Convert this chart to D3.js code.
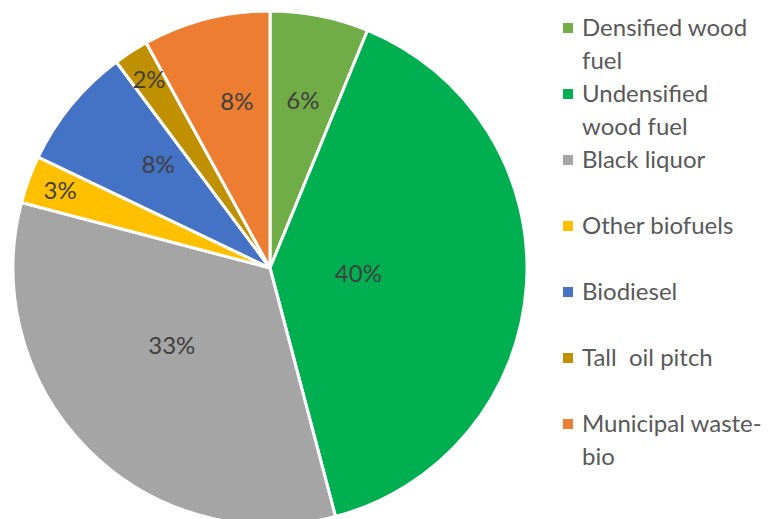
<html>
<head>
<style>
  body { margin: 0; background: #fff; font-family: Lato, 'Open Sans', Arial; }
  .slice path { stroke: #fff; stroke-width: 3px; }
  .pct { fill: #404040; font-size: 24px; }
  .legend text { fill: #595959; font-size: 24px; white-space: pre; }
</style>
</head>
<body>
<script src="https://d3js.org/d3.v7.min.js"></script>
<script>

var width = 768;
var height = 519;

// shares (percent), clockwise from 12 o'clock
var categories = ['Densified wood fuel', 'Undensified wood fuel', 'Black liquor',
  'Other biofuels', 'Biodiesel', 'Tall  oil pitch', 'Municipal waste-bio'];
var values = [6.2, 39.7, 33.2, 3.0, 7.7, 2.2, 8.0];
var colors = ['#70AD47', '#00B050', '#A5A5A5', '#FFC000', '#4472C4', '#BF9000', '#ED7D31'];
// legend text as it wraps in the original
var legendLines = [['Densified wood', 'fuel'], ['Undensified', 'wood fuel'], ['Black liquor'],
  ['Other biofuels'], ['Biodiesel'], ['Tall  oil pitch'], ['Municipal waste-', 'bio']];

var cx = 270, cy = 268, radius = 257;

var svg = d3.select('body').append('svg')
  .attr('width', width)
  .attr('height', height);

var pie = d3.pie().sort(null).value(function (d) { return d; });
var arc = d3.arc().innerRadius(0).outerRadius(radius);
var arcs = pie(values);

var g = svg.append('g').attr('transform', 'translate(' + cx + ',' + cy + ')');

g.selectAll('.slice')
  .data(arcs)
  .enter().append('g').attr('class', 'slice')
  .append('path')
  .attr('d', arc)
  .attr('fill', function (d, i) { return colors[i]; });

// excel-ish "best fit": sector centroid, thin slices pushed out, wide ones pulled in
function labelPos (d, i) {
  var half = (d.endAngle - d.startAngle) / 2;
  var mid = d.startAngle + half;
  var dist = 2 * radius * Math.sin(half) / (3 * half);
  if (half < 0.12) dist = radius * 0.87;
  else if (half > 1.1) dist *= 0.68;
  else if (half > 0.9) { dist *= 0.88; mid += 0.12; }
  else if (i === 4) { dist *= 0.9; mid += 0.06; }
  else if (i === 6) { mid += 0.055; }
  return [dist * Math.sin(mid), -dist * Math.cos(mid)];
}

g.selectAll('.pct')
  .data(arcs)
  .enter().append('text')
  .attr('class', 'pct')
  .attr('text-anchor', 'middle')
  .attr('dy', '0.35em')
  .attr('transform', function (d, i) { return 'translate(' + labelPos(d, i) + ')'; })
  .text(function (d) { return Math.round(d.value) + '%'; });

var legend = svg.append('g').attr('class', 'legend')
  .attr('transform', 'translate(563,0)');

var item = legend.selectAll('g')
  .data(categories)
  .enter().append('g')
  .attr('transform', function (d, i) { return 'translate(0,' + (28 + 66 * i) + ')'; });

item.append('rect')
  .attr('x', 0).attr('y', -5)
  .attr('width', 10).attr('height', 10)
  .attr('fill', function (d, i) { return colors[i]; });

item.append('text')
  .selectAll('tspan')
  .data(function (d, i) { return legendLines[i]; })
  .enter().append('tspan')
  .attr('x', 19)
  .attr('y', function (d, j) { return j * 33; })
  .attr('dy', '0.35em')
  .text(function (d) { return d; });

</script>
</body>
</html>
